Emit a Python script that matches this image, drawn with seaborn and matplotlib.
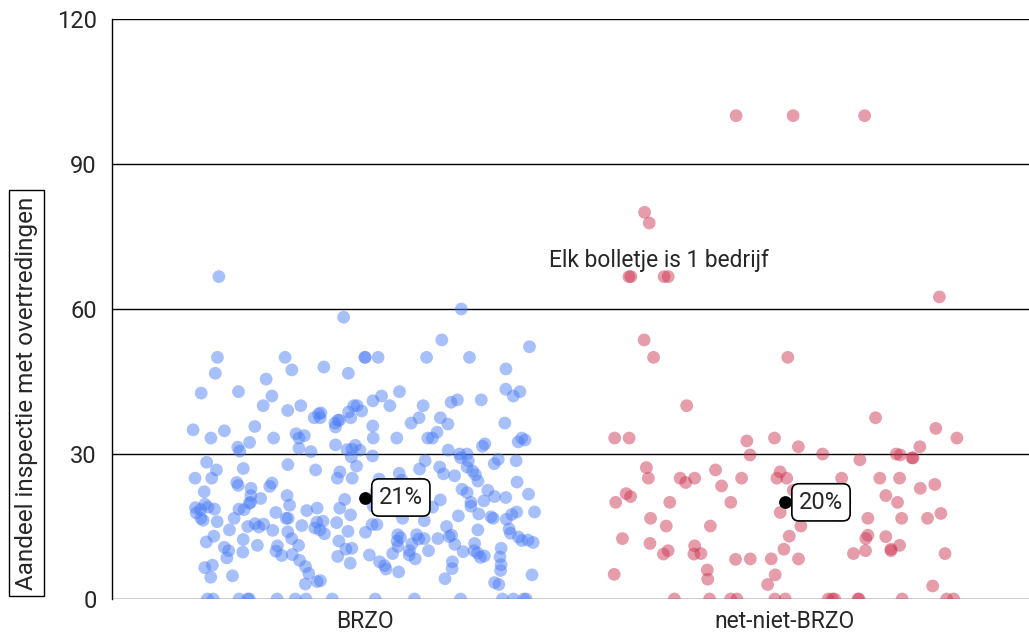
import numpy as np
import pandas as pd
import seaborn as sns
import matplotlib.pyplot as plt

# categories and values (share of inspections with violations, per company)
categories = ["BRZO", "net-niet-BRZO"]
colors = ["#4a7cf5", "#cc3350"]

brzo = [66.7, 60, 58.3, 53.6, 52.2,
        50, 50, 50, 50, 50, 50, 50,
        48, 46.7, 47.4, 47.6, 45.5, 46.7,
        42, 42.6, 42.9, 42.9, 42, 42, 43.4, 42.9, 41, 40.7, 40, 40, 40, 38.9,
        38.5, 40, 38.3, 41.2, 41.2, 40, 40, 39, 38.7, 37.5, 37.5, 37.5, 37.5,
        37.5, 36.4, 36.4, 35.7, 36.2, 37, 37, 36.4, 35.8, 35.6,
        35, 34.8, 34.5, 33.3, 33.3, 33.3, 33.3, 33.3, 33.3, 33.3, 33.3, 32.9,
        32.5, 32.1, 31.8, 31.6, 31.4, 31.2, 31, 30.8, 30.8, 30.6, 30.5, 33.8,
        34.2, 32.4, 31.9, 30.9,
        30, 30, 29.6, 29.4, 29.2, 28.9, 28.6, 28.6, 28.6, 28.3, 28, 27.8, 27.5,
        27.3, 27.3, 27, 26.9, 26.7, 26.7, 26.5, 26.3, 26, 25.9, 25.7, 25.5, 25,
        25, 25, 25, 24.8, 24.6, 24.4, 24.2, 24.1, 24,
        23.8, 23.5, 23.3, 23.1, 22.9, 22.7, 22.5, 22.2, 22.2, 22, 21.7, 21.4,
        21.4, 21.2, 21, 20.8, 20.6, 20.5, 20.3, 20, 20, 20, 20, 19.8, 19.6,
        19.4, 19.2, 19, 18.9, 18.8, 18.6, 18.5, 18.5,
        19.2, 19, 18.8, 18.6, 18.3, 18.2, 18, 18, 17.9, 17.8, 17.6, 17.5, 17.4,
        17.2, 17,
        16.7, 16.7, 16.7, 16.7, 16.7, 16.7, 16.5, 16.3, 16.2, 16, 15.9, 15.8,
        15.6, 15.4, 15.4, 15.2, 15, 15, 14.9, 14.7, 16.1, 15.5,
        14.5, 14.3, 14.3, 14.3, 14.2, 14, 13.9, 13.8, 13.6, 13.5, 13.3, 13.3,
        13.2, 13, 12.9, 12.8, 12.7, 12.5, 12.5, 12.5, 12.4, 12.3, 12.2, 12.1,
        12, 12,
        11.8, 11.7, 11.5, 11.4, 11.3, 11.1, 11.1, 11, 10.9, 10.7, 10.5, 10.5,
        10.3, 10, 10, 10, 10, 9.9, 9.8, 9.7, 9.5, 9.4, 9.2, 9.1, 9.1, 9, 8.9,
        8.8, 8.7, 8.6, 8.5, 8.3,
        8, 7.7, 7.7, 7.4, 7.1, 7, 6.9, 6.7, 6.5, 6.3, 6.2, 5.9, 5.6, 5.3, 5,
        4.8, 4.5, 4.2, 3.8, 3.6, 3.4, 3.1, 3,
        0, 0, 0, 0, 0, 0, 0, 0, 0, 0, 0, 0, 0, 0, 0, 0]

net_niet_brzo = [100, 100, 100, 80, 77.8, 66.7, 66.7, 66.7, 66.7, 62.5, 53.6,
                 50, 50, 40, 37.5, 35.3, 33.3, 33.3, 33.3, 33.3, 32.7, 31.5,
                 31.5, 30, 30, 29.8, 29.8, 29.2, 29.2, 28.8, 27.2, 26.7, 26.3,
                 25, 25, 25, 25, 25, 25, 25, 25, 25, 24.1, 23.7, 23.4, 22.9,
                 22.5, 21.8, 21.4, 21.2, 20, 20, 20, 20, 20, 17.7, 17.9, 17.3,
                 16.7, 16.7, 16.7, 16.7, 15.1, 15.1, 15.1, 13.2, 12.5, 13, 12.9,
                 12.5, 11.5, 11.1, 11, 10.3, 10.3, 10, 10, 10, 9.4, 9.4, 9.4,
                 9.3, 9.3, 8.3, 8.3, 8.2, 8.3, 6, 5.1, 5, 4.1, 3, 2.7,
                 0, 0, 0, 0, 0, 0, 0, 0, 0, 0, 0, 0, 0, 0]

mean_pct = [21, 20]
yticks = [0, 30, 60, 90, 120]
note_text = "Elk bolletje is 1 bedrijf"
ylabel = "Aandeel inspectie met overtredingen"

df = pd.DataFrame({
    "groep": [categories[0]] * len(brzo) + [categories[1]] * len(net_niet_brzo),
    "aandeel": brzo + net_niet_brzo,
})
df_mean = pd.DataFrame({"groep": categories, "gem": mean_pct})

sns.set_style("white")
plt.rcParams["font.family"] = ["Roboto", "DejaVu Sans"]

fig = plt.figure(figsize=(10.29, 6.34), dpi=100)
ax = fig.add_axes([0.1088, 0.0552, 0.8912, 0.9148])

np.random.seed(7)
sns.stripplot(data=df, x="groep", y="aandeel", hue="groep", order=categories,
              palette=dict(zip(categories, colors)), alpha=0.48, size=9.2,
              linewidth=0, jitter=0.41, legend=False, ax=ax)
sns.stripplot(data=df_mean, x="groep", y="gem", order=categories,
              color="black", size=9.2, jitter=False, ax=ax, zorder=5)

for i, v in enumerate(mean_pct):
    ax.annotate(f"{v}%", xy=(i, v), xytext=(14, 0), textcoords="offset pixels",
                ha="left", va="center", fontsize=17, zorder=6,
                bbox=dict(boxstyle="round,pad=0.3,rounding_size=0.3",
                          fc="white", ec="black", lw=1.2))

ax.text(0.7, 70, note_text, ha="center", va="center", fontsize=16.4)

ax.set_ylim(0, 120)
ax.set_xlim(-0.602, 1.581)
ax.set_yticks(yticks)
ax.set_axisbelow(True)
ax.yaxis.grid(True, color="black", lw=1)
for s in ["top", "right", "bottom"]:
    ax.spines[s].set_visible(False)
ax.spines["left"].set_color("black")
ax.spines["left"].set_linewidth(1)

ax.set_xlabel("")
ax.set_ylabel(ylabel, fontsize=17.5,
              bbox=dict(boxstyle="square,pad=0.25", fc="white", ec="black", lw=1))
ax.yaxis.set_label_coords(-0.081, 0.355)
ax.tick_params(axis="x", length=0, labelsize=16.5, pad=8)
ax.tick_params(axis="y", length=0, labelsize=17, pad=11)

fig.savefig("out.png", dpi=100)
